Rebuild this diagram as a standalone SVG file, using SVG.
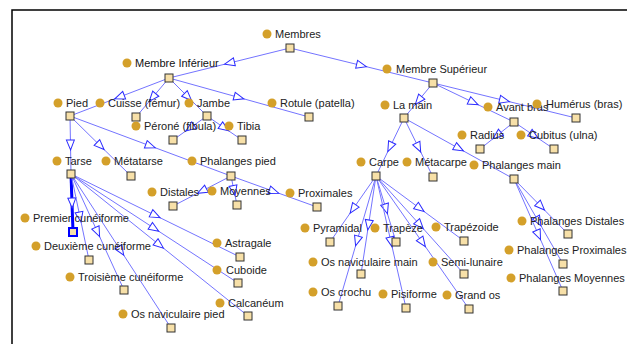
<svg xmlns="http://www.w3.org/2000/svg" width="627" height="344" viewBox="0 0 627 344">
<style>
.bg{fill:#ffffff}
.frame{stroke:#000;stroke-width:1.5;fill:none}
.e{fill:none;stroke:#7474ff;stroke-width:1;marker-mid:url(#tri)}
.e.sel{stroke:#0000ff;stroke-width:3}
.dot{fill:#d4a02a}
.lbl{font-family:"Liberation Sans",Arial,sans-serif;font-size:11px;fill:#222}
.sq{fill:#f7e0a8;stroke:#333;stroke-width:1}
.sq.sel{stroke:#0000ff;stroke-width:2}
</style>
<defs>
<marker id="tri" markerUnits="userSpaceOnUse" markerWidth="14" markerHeight="10" refX="5" refY="4" orient="auto" viewBox="-1 -1 13 10">
<path d="M0,0 L10,4 L0,8 Z" fill="#ffffff" stroke="#2a2aff" stroke-width="1"/>
</marker>
</defs>
<rect class="bg" x="0" y="0" width="627" height="344"/>
<path class="frame" d="M12,344 V10 H627"/>
<g id="connectors">
<path class="e" d="M290,48 L229.5,63 L169,78"/>
<path class="e" d="M290,48 L361.5,65.5 L433,83"/>
<path class="e" d="M169,78 L119.5,97 L70,116"/>
<path class="e" d="M169,78 L152.5,97.5 L136,117"/>
<path class="e" d="M169,78 L188,97 L207,116"/>
<path class="e" d="M169,78 L239,97.5 L309,117"/>
<path class="e" d="M207,116 L190,128 L173,140"/>
<path class="e" d="M207,116 L224.5,128 L242,140"/>
<path class="e" d="M70,116 L70.5,145 L71,174"/>
<path class="e" d="M70,116 L100.5,146 L131,176"/>
<path class="e" d="M70,116 L150.5,146 L231,176"/>
<path class="e" d="M231,176 L202,191 L173,206"/>
<path class="e" d="M231,176 L234,190.5 L237,205"/>
<path class="e" d="M231,176 L274,191.5 L317,207"/>
<path class="e sel" d="M71,174 L72,203 L73,232"/>
<path class="e" d="M71,174 L80,217 L89,260"/>
<path class="e" d="M71,174 L97.5,232 L124,290"/>
<path class="e" d="M71,174 L121,251 L171,328"/>
<path class="e" d="M71,174 L155.5,215.5 L240,257"/>
<path class="e" d="M71,174 L154.5,228.5 L238,283"/>
<path class="e" d="M71,174 L159.5,245 L248,316"/>
<path class="e" d="M433,83 L418.5,100.5 L404,118"/>
<path class="e" d="M433,83 L473.5,102.5 L514,122"/>
<path class="e" d="M433,83 L504.5,100.5 L576,118"/>
<path class="e" d="M514,122 L497,135.5 L480,149"/>
<path class="e" d="M514,122 L534,135.5 L554,149"/>
<path class="e" d="M404,118 L390,147 L376,176"/>
<path class="e" d="M404,118 L418.5,147.5 L433,177"/>
<path class="e" d="M404,118 L459,148.5 L514,179"/>
<path class="e" d="M514,179 L541,206.5 L568,234"/>
<path class="e" d="M514,179 L538.5,221.5 L563,264"/>
<path class="e" d="M514,179 L538.5,235 L563,291"/>
<path class="e" d="M376,176 L353,209 L330,242"/>
<path class="e" d="M376,176 L386,209 L396,242"/>
<path class="e" d="M376,176 L420,208.5 L464,241"/>
<path class="e" d="M376,176 L368.5,225 L361,274"/>
<path class="e" d="M376,176 L420,225 L464,274"/>
<path class="e" d="M376,176 L357,241 L338,306"/>
<path class="e" d="M376,176 L391,242 L406,308"/>
<path class="e" d="M376,176 L422.5,242.5 L469,309"/>
</g>
<g id="n-membres"><circle class="dot" cx="267" cy="34" r="4.5"/><text class="lbl" x="275" y="38">Membres</text><rect class="sq" x="286" y="44" width="8" height="8"/></g>
<g id="n-membre-inferieur"><circle class="dot" cx="127" cy="63" r="4.5"/><text class="lbl" x="135" y="67" style="fill:#111">Membre Inférieur</text><rect class="sq" x="165" y="74" width="8" height="8"/></g>
<g id="n-membre-superieur"><circle class="dot" cx="387" cy="69" r="4.5"/><text class="lbl" x="396" y="73">Membre Supérieur</text><rect class="sq" x="429" y="79" width="8" height="8"/></g>
<g id="n-pied"><circle class="dot" cx="58" cy="103" r="4.5"/><text class="lbl" x="66" y="107">Pied</text><rect class="sq" x="66" y="112" width="8" height="8"/></g>
<g id="n-cuisse"><circle class="dot" cx="100" cy="103" r="4.5"/><text class="lbl" x="108" y="107">Cuisse (fémur)</text><rect class="sq" x="132" y="113" width="8" height="8"/></g>
<g id="n-jambe"><circle class="dot" cx="189" cy="103" r="4.5"/><text class="lbl" x="197" y="107">Jambe</text><rect class="sq" x="203" y="112" width="8" height="8"/></g>
<g id="n-rotule"><circle class="dot" cx="272" cy="103" r="4.5"/><text class="lbl" x="280" y="107">Rotule (patella)</text><rect class="sq" x="305" y="113" width="8" height="8"/></g>
<g id="n-perone"><circle class="dot" cx="136" cy="126" r="4.5"/><text class="lbl" x="144" y="130">Péroné (fibula)</text><rect class="sq" x="169" y="136" width="8" height="8"/></g>
<g id="n-tibia"><circle class="dot" cx="229" cy="126" r="4.5"/><text class="lbl" x="237" y="130">Tibia</text><rect class="sq" x="238" y="136" width="8" height="8"/></g>
<g id="n-tarse"><circle class="dot" cx="57" cy="161" r="4.5"/><text class="lbl" x="65" y="165">Tarse</text><rect class="sq" x="67" y="170" width="8" height="8"/></g>
<g id="n-metatarse"><circle class="dot" cx="106" cy="161" r="4.5"/><text class="lbl" x="114" y="165">Métatarse</text><rect class="sq" x="127" y="172" width="8" height="8"/></g>
<g id="n-phalanges-pied"><circle class="dot" cx="192" cy="161" r="4.5"/><text class="lbl" x="200" y="165">Phalanges pied</text><rect class="sq" x="227" y="172" width="8" height="8"/></g>
<g id="n-distales"><circle class="dot" cx="152" cy="192" r="4.5"/><text class="lbl" x="160" y="196">Distales</text><rect class="sq" x="169" y="202" width="8" height="8"/></g>
<g id="n-moyennes"><circle class="dot" cx="212" cy="191" r="4.5"/><text class="lbl" x="220" y="195">Moyennes</text><rect class="sq" x="233" y="201" width="8" height="8"/></g>
<g id="n-proximales"><circle class="dot" cx="290" cy="193" r="4.5"/><text class="lbl" x="298" y="197">Proximales</text><rect class="sq" x="313" y="203" width="8" height="8"/></g>
<g id="n-premier-cuneiforme"><circle class="dot" cx="25" cy="218" r="4.5"/><text class="lbl" x="33" y="222">Premier cunéiforme</text><rect class="sq sel" x="69" y="228" width="8" height="8"/></g>
<g id="n-deuxieme-cuneiforme"><circle class="dot" cx="36" cy="246" r="4.5"/><text class="lbl" x="44" y="250">Deuxième cunéiforme</text><rect class="sq" x="85" y="256" width="8" height="8"/></g>
<g id="n-troisieme-cuneiforme"><circle class="dot" cx="70" cy="277" r="4.5"/><text class="lbl" x="78" y="281">Troisième cunéiforme</text><rect class="sq" x="120" y="286" width="8" height="8"/></g>
<g id="n-os-naviculaire-pied"><circle class="dot" cx="123" cy="314" r="4.5"/><text class="lbl" x="131" y="318">Os naviculaire pied</text><rect class="sq" x="167" y="324" width="8" height="8"/></g>
<g id="n-astragale"><circle class="dot" cx="217" cy="243" r="4.5"/><text class="lbl" x="225" y="247">Astragale</text><rect class="sq" x="236" y="253" width="8" height="8"/></g>
<g id="n-cuboide"><circle class="dot" cx="217" cy="270" r="4.5"/><text class="lbl" x="226" y="274">Cuboide</text><rect class="sq" x="234" y="279" width="8" height="8"/></g>
<g id="n-calcaneum"><circle class="dot" cx="220" cy="303" r="4.5"/><text class="lbl" x="228" y="307">Calcanéum</text><rect class="sq" x="244" y="312" width="8" height="8"/></g>
<g id="n-la-main"><circle class="dot" cx="385" cy="105" r="4.5"/><text class="lbl" x="393" y="109">La main</text><rect class="sq" x="400" y="114" width="8" height="8"/></g>
<g id="n-avant-bras"><circle class="dot" cx="488" cy="107" r="4.5"/><text class="lbl" x="496" y="111">Avant bras</text><rect class="sq" x="510" y="118" width="8" height="8"/></g>
<g id="n-humerus"><circle class="dot" cx="537" cy="104" r="4.5"/><text class="lbl" x="546" y="108">Humérus (bras)</text><rect class="sq" x="572" y="114" width="8" height="8"/></g>
<g id="n-radius"><circle class="dot" cx="462" cy="135" r="4.5"/><text class="lbl" x="470" y="139">Radius</text><rect class="sq" x="476" y="145" width="8" height="8"/></g>
<g id="n-cubitus"><circle class="dot" cx="521" cy="135" r="4.5"/><text class="lbl" x="529" y="139">Cubitus (ulna)</text><rect class="sq" x="550" y="145" width="8" height="8"/></g>
<g id="n-carpe"><circle class="dot" cx="361" cy="162" r="4.5"/><text class="lbl" x="369" y="166">Carpe</text><rect class="sq" x="372" y="172" width="8" height="8"/></g>
<g id="n-metacarpe"><circle class="dot" cx="407" cy="162" r="4.5"/><text class="lbl" x="415" y="166">Métacarpe</text><rect class="sq" x="429" y="173" width="8" height="8"/></g>
<g id="n-phalanges-main"><circle class="dot" cx="474" cy="165" r="4.5"/><text class="lbl" x="482" y="169">Phalanges main</text><rect class="sq" x="510" y="175" width="8" height="8"/></g>
<g id="n-phalanges-distales"><circle class="dot" cx="522" cy="221" r="4.5"/><text class="lbl" x="530" y="225">Phalanges Distales</text><rect class="sq" x="564" y="230" width="8" height="8"/></g>
<g id="n-phalanges-proximales"><circle class="dot" cx="509" cy="250" r="4.5"/><text class="lbl" x="517" y="254">Phalanges Proximales</text><rect class="sq" x="559" y="260" width="8" height="8"/></g>
<g id="n-phalanges-moyennes"><circle class="dot" cx="511" cy="278" r="4.5"/><text class="lbl" x="519" y="282">Phalanges Moyennes</text><rect class="sq" x="559" y="287" width="8" height="8"/></g>
<g id="n-pyramidal"><circle class="dot" cx="305" cy="228" r="4.5"/><text class="lbl" x="313" y="232">Pyramidal</text><rect class="sq" x="326" y="238" width="8" height="8"/></g>
<g id="n-trapeze"><circle class="dot" cx="375" cy="228" r="4.5"/><text class="lbl" x="383" y="232">Trapèze</text><rect class="sq" x="392" y="238" width="8" height="8"/></g>
<g id="n-trapezoide"><circle class="dot" cx="436" cy="227" r="4.5"/><text class="lbl" x="444" y="231">Trapézoide</text><rect class="sq" x="460" y="237" width="8" height="8"/></g>
<g id="n-os-naviculaire-main"><circle class="dot" cx="313" cy="262" r="4.5"/><text class="lbl" x="321" y="266">Os naviculaire main</text><rect class="sq" x="357" y="270" width="8" height="8"/></g>
<g id="n-semi-lunaire"><circle class="dot" cx="433" cy="262" r="4.5"/><text class="lbl" x="441" y="266">Semi-lunaire</text><rect class="sq" x="460" y="270" width="8" height="8"/></g>
<g id="n-os-crochu"><circle class="dot" cx="313" cy="292" r="4.5"/><text class="lbl" x="321" y="296">Os crochu</text><rect class="sq" x="334" y="302" width="8" height="8"/></g>
<g id="n-pisiforme"><circle class="dot" cx="383" cy="294" r="4.5"/><text class="lbl" x="391" y="298">Pisiforme</text><rect class="sq" x="402" y="304" width="8" height="8"/></g>
<g id="n-grand-os"><circle class="dot" cx="447" cy="295" r="4.5"/><text class="lbl" x="455" y="299">Grand os</text><rect class="sq" x="465" y="305" width="8" height="8"/></g>
</svg>
